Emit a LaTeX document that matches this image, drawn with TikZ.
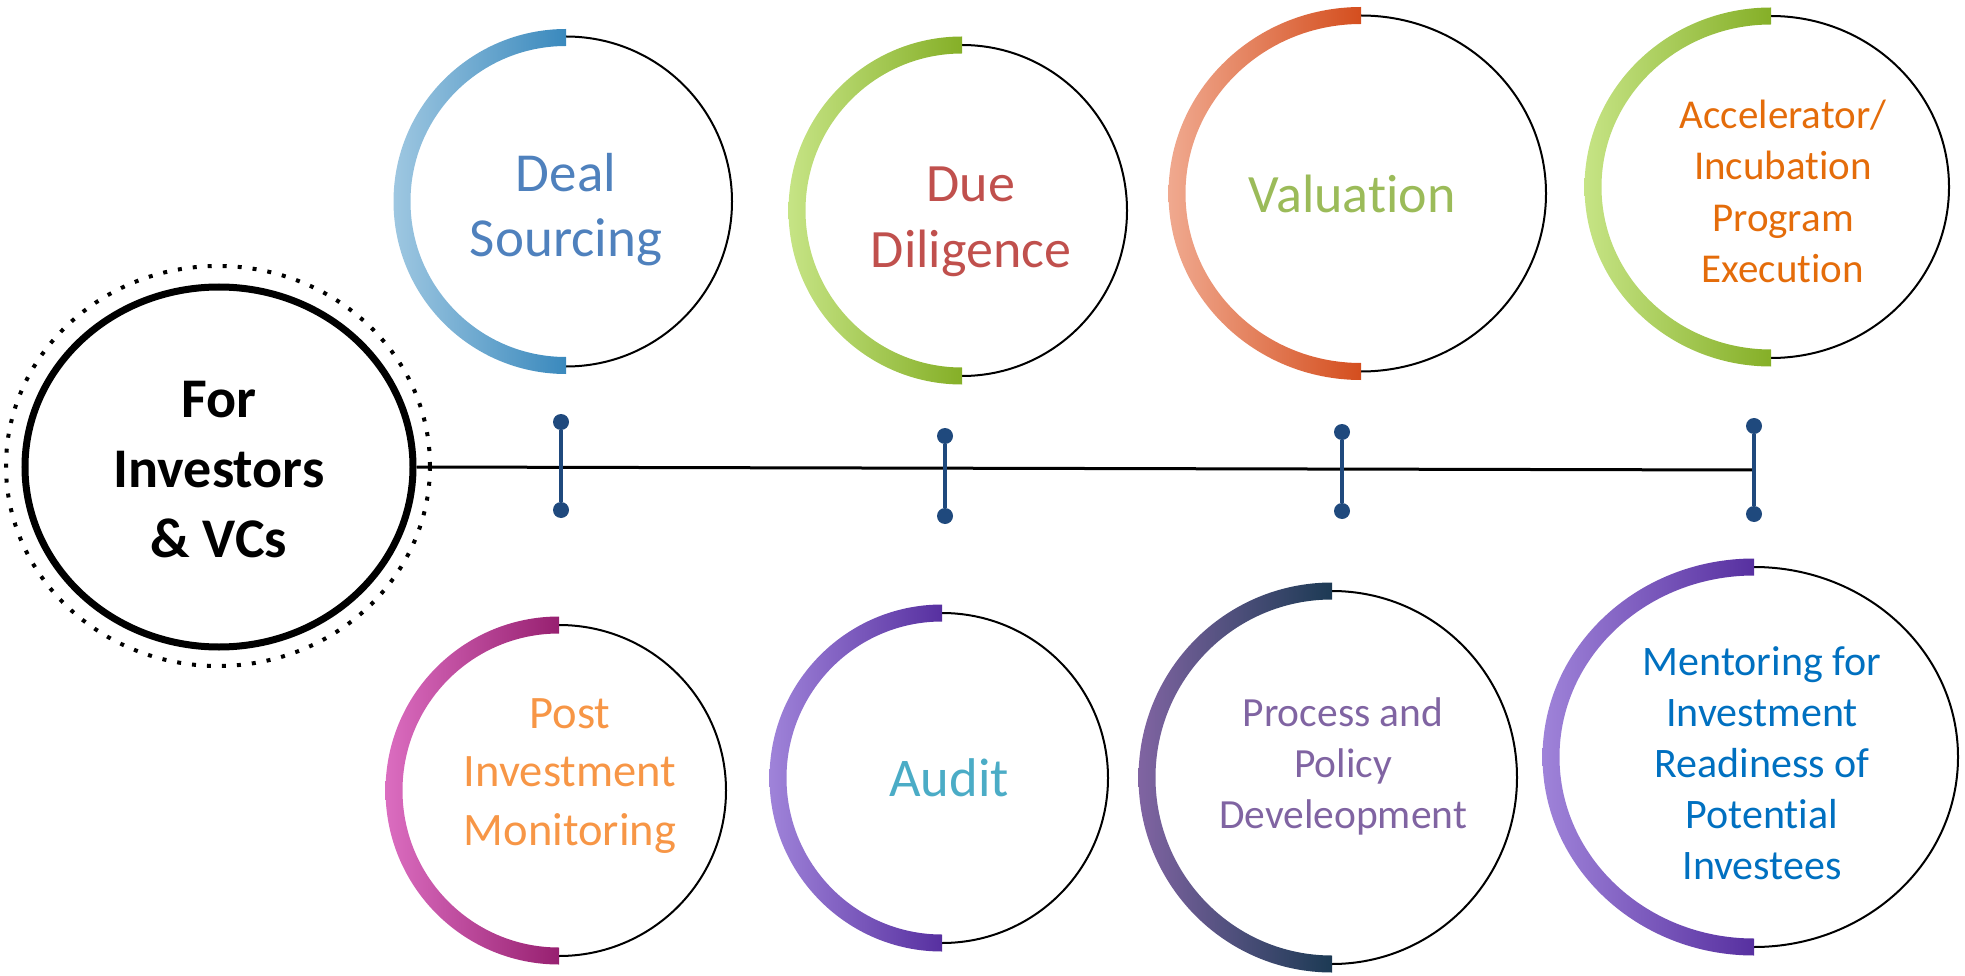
\documentclass[tikz,border=0pt]{standalone}
\usepackage{fontspec}
\setmainfont{Carlito}[Ligatures={NoCommon}]
\usetikzlibrary{shapes.geometric}
\definecolor{pinblue}{HTML}{1F497D}
\definecolor{dsL}{HTML}{9EC7E1}\definecolor{dsR}{HTML}{3A89BD}
\definecolor{grL}{HTML}{C6E485}\definecolor{grR}{HTML}{85AF27}
\definecolor{vaL}{HTML}{F0A98F}\definecolor{vaR}{HTML}{D44E1E}
\definecolor{pmL}{HTML}{DB6DC0}\definecolor{pmR}{HTML}{972070}
\definecolor{auL}{HTML}{9F83D9}\definecolor{auR}{HTML}{5730A0}
\definecolor{ppL}{HTML}{8064A2}\definecolor{ppR}{HTML}{1C3A54}
\definecolor{txDS}{HTML}{4F81BD}
\definecolor{txDD}{HTML}{C0504D}
\definecolor{txVA}{HTML}{9BBB59}
\definecolor{txAC}{HTML}{E46C0A}
\definecolor{txPM}{HTML}{F79646}
\definecolor{txAU}{HTML}{4BACC6}
\definecolor{txPP}{HTML}{8064A2}
\definecolor{txMR}{HTML}{0070C0}
\tikzset{
  ringshape/.style={ellipse, draw=black, line width=2pt, inner sep=0pt},
  lbl/.style={align=center, anchor=base, inner sep=0pt},
  pindot/.style={circle, fill=pinblue, inner sep=0pt, minimum size=16pt},
  pinline/.style={draw=pinblue, line width=3.5pt},
}
\newcommand\halfring[6]{%
  \path[left color=#5, right color=#6]
    ({#1},{#2-#4-8.5}) arc[start angle=270, end angle=90, x radius={#3+8.5}, y radius={#4+8.5}]
    -- ({#1},{#2+#4-8.5}) arc[start angle=90, end angle=270, x radius={#3-8.5}, y radius={#4-8.5}]
    -- cycle;}
\begin{document}
\begin{tikzpicture}[x=1pt,y=-1pt]
\useasboundingbox (0,0) rectangle (1965,976);

% hub
\node[ellipse, draw=black, line width=4pt, dash pattern=on 4pt off 11pt, minimum width=424pt, minimum height=400pt, inner sep=0pt] (hubring) at (218,466) {};
\node[ellipse, draw=black, line width=7pt, minimum width=388pt, minimum height=360pt, inner sep=0pt] (hub) at (219,467) {};
\node[lbl, font=\bfseries\fontsize{56}{70}\selectfont] (hubtext) at (219,557) {For\\Investors\\\& VCs};

% timeline
\coordinate (lineend) at (1754,470);
\draw[line width=3pt] (hub.east) -- (lineend);

% pins
\node[pindot] (p1t) at (561,422) {}; \node[pindot] (p1b) at (561,510) {};
\node[pindot] (p2t) at (945,436) {}; \node[pindot] (p2b) at (945,516) {};
\node[pindot] (p3t) at (1342,432) {}; \node[pindot] (p3b) at (1342,511) {};
\node[pindot] (p4t) at (1754,426) {}; \node[pindot] (p4b) at (1754,514) {};
\draw[pinline] (p1t) -- (p1b);
\draw[pinline] (p2t) -- (p2b);
\draw[pinline] (p3t) -- (p3b);
\draw[pinline] (p4t) -- (p4b);

% top circles
\node[ringshape, minimum width=332pt, minimum height=330pt] (ds) at (566,201.5) {};
\halfring{566}{201.5}{164}{164}{dsL}{dsR}
\node[lbl, text=txDS, font=\fontsize{55}{65}\selectfont] (dst) at (566,257) {Deal\\Sourcing};

\node[ringshape, minimum width=330pt, minimum height=331pt] (dd) at (962,210.5) {};
\halfring{962}{210.5}{165}{165.5}{grL}{grR}
\node[lbl, text=txDD, font=\fontsize{54}{66}\selectfont] (ddt) at (971,268) {Due\\Diligence};

\node[ringshape, minimum width=370pt, minimum height=356pt] (va) at (1361,193.5) {};
\halfring{1361}{193.5}{184}{178}{vaL}{vaR}
\node[lbl, text=txVA, font=\fontsize{54}{65}\selectfont] (vat) at (1352,213) {Valuation};

\node[ringshape, minimum width=356pt, minimum height=342pt] (ac) at (1771,187) {};
\halfring{1771}{187}{178}{171}{grL}{grR}
\node[lbl, text=txAC, font=\fontsize{41}{51.5}\selectfont] (act) at (1783,283) {Accelerator/\\Incubation\\Program\\Execution};

% bottom circles
\node[ringshape, minimum width=334pt, minimum height=331pt] (pm) at (559,790.5) {};
\halfring{559}{790.5}{165}{165.5}{pmL}{pmR}
\node[lbl, text=txPM, font=\fontsize{46.5}{58.5}\selectfont] (pmt) at (570,845) {Post\\Investment\\Monitoring};

\node[ringshape, minimum width=332pt, minimum height=330pt] (au) at (942,778) {};
\halfring{942}{778}{164}{165}{auL}{auR}
\node[lbl, text=txAU, font=\fontsize{54.5}{65}\selectfont] (aut) at (949,796) {Audit};

\node[ringshape, minimum width=370pt, minimum height=373pt] (pp) at (1332,777.5) {};
\halfring{1332}{777.5}{185}{186.5}{ppL}{ppR}
\node[lbl, text=txPP, font=\fontsize{41.5}{51}\selectfont] (ppt) at (1343,828) {Process and\\Policy\\Develeopment};

\node[ringshape, minimum width=408pt, minimum height=380pt] (mr) at (1754,757) {};
\halfring{1754}{757}{203}{190}{auL}{auR}
\node[lbl, text=txMR, font=\fontsize{42}{51}\selectfont] (mrt) at (1762,879) {Mentoring for\\Investment\\Readiness of\\Potential\\Investees};
\end{tikzpicture}
\end{document}
